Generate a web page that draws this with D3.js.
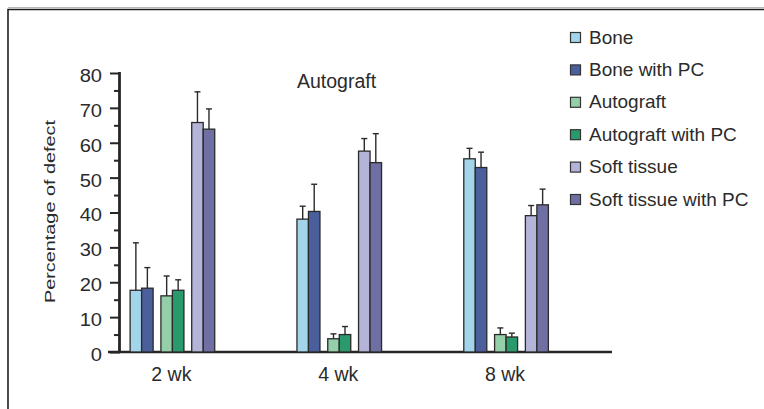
<!DOCTYPE html>
<html>
<head>
<meta charset="utf-8">
<script src="https://cdn.jsdelivr.net/npm/d3@7"></script>
<style>
  html, body { margin: 0; padding: 0; background: #fff; }
  svg { display: block; }
  text { font-family: "Liberation Sans", Arial, sans-serif; fill: #2b2b2b; }
</style>
</head>
<body>
<svg id="chart" width="764" height="409"></svg>
<script>
// Time points on the x axis
const weeks = ["2 wk", "4 wk", "8 wk"];

// Series shown in each group, in drawing order
const seriesNames = ["Bone", "Bone with PC", "Autograft", "Autograft with PC", "Soft tissue", "Soft tissue with PC"];
const seriesColors = ["#a2d5ea", "#4a5f9c", "#94cfaa", "#2a9a6d", "#b4b3d8", "#6f6fa4"];

// Mean percentage of defect per time point
const bone             = [17.7, 38.1, 55.4];
const boneWithPC       = [18.3, 40.3, 52.9];
const autograft        = [16.1, 3.8, 5.0];
const autograftWithPC  = [17.7, 5.0, 4.3];
const softTissue       = [65.8, 57.6, 39.1];
const softTissueWithPC = [63.9, 54.3, 42.2];

// Standard deviations (upper error bars)
const boneSD             = [13.6, 3.7, 3.0];
const boneWithPCSD       = [5.9, 7.8, 4.4];
const autograftSD        = [5.7, 1.4, 1.9];
const autograftWithPCSD  = [3.0, 2.3, 1.1];
const softTissueSD       = [8.8, 3.6, 2.9];
const softTissueWithPCSD = [5.8, 8.3, 4.5];

const yTicks = [0, 10, 20, 30, 40, 50, 60, 70, 80];
const yMinorTicks = [5, 15, 25, 35, 45, 55, 65, 75];

const seriesValues = [bone, boneWithPC, autograft, autograftWithPC, softTissue, softTissueWithPC];
const seriesSD = [boneSD, boneWithPCSD, autograftSD, autograftWithPCSD, softTissueSD, softTissueWithPCSD];

const rows = [];
weeks.forEach((w, wi) => {
  seriesNames.forEach((s, si) => {
    rows.push({ week: w, series: s, idx: si, value: seriesValues[si][wi], sd: seriesSD[si][wi] });
  });
});

const svg = d3.select("#chart");
const ink = "#262626";

// Outer frame
svg.append("path")
  .attr("d", "M8,409V9.5H764")
  .attr("fill", "none").attr("stroke", "#1e1e1e").attr("stroke-width", 1.6);
svg.append("line")
  .attr("x1", 8).attr("x2", 764).attr("y1", 7.6).attr("y2", 7.6)
  .attr("stroke", "#b0b0b0").attr("stroke-width", 1);

// Scales
const y = d3.scaleLinear().domain([0, 80]).range([352, 73]);
const x0 = d3.scaleBand().domain(weeks).range([89, 589.5]).padding(0);
const groupWidth = 84.6;
const pairScale = d3.scaleBand().domain([0, 1, 2]).range([0, groupWidth]).paddingInner(0.253).paddingOuter(0);
const withinScale = d3.scaleBand().domain([0, 1]).range([0, pairScale.bandwidth()]);

function barX(d) {
  const gx = x0(d.week) + x0.bandwidth() / 2 - groupWidth / 2;
  return gx + pairScale(Math.floor(d.idx / 2)) + withinScale(d.idx % 2);
}
const bw = withinScale.bandwidth();

// Y axis: labelled major ticks
const yAxis = d3.axisLeft(y).tickValues(yTicks).tickSize(10).tickPadding(8).tickSizeOuter(0);
const gy = svg.append("g").attr("transform", "translate(120,0)").call(yAxis);
gy.select(".domain").remove();
gy.selectAll(".tick line").attr("stroke", ink).attr("stroke-width", 2);
gy.selectAll(".tick text")
  .style("font-family", "'Liberation Sans', Arial, sans-serif")
  .attr("font-size", 17.5).attr("fill", "#2b2b2b").attr("dy", "0.48em")
  .each(function () {
    // numerals are set slightly wide
    const w = this.getComputedTextLength();
    d3.select(this).attr("textLength", w * 1.15).attr("lengthAdjust", "spacingAndGlyphs");
  });

// Minor ticks
const yMinor = d3.axisLeft(y).tickValues(yMinorTicks).tickSize(6).tickFormat("");
const gm = svg.append("g").attr("transform", "translate(120,0)").call(yMinor);
gm.select(".domain").remove();
gm.selectAll(".tick line").attr("stroke", ink).attr("stroke-width", 2);

// Axis lines
svg.append("line")
  .attr("x1", 119.5).attr("x2", 119.5).attr("y1", y(80) - 1).attr("y2", y(0))
  .attr("stroke", ink).attr("stroke-width", 2.8);
svg.append("line")
  .attr("x1", 108).attr("x2", 612).attr("y1", y(0)).attr("y2", y(0))
  .attr("stroke", ink).attr("stroke-width", 2.4);

// Bars
svg.append("g").selectAll("rect").data(rows).join("rect")
  .attr("x", d => barX(d))
  .attr("y", d => y(d.value))
  .attr("width", bw)
  .attr("height", d => y(0) - y(d.value))
  .attr("fill", d => seriesColors[d.idx])
  .attr("stroke", "#2a2a2a").attr("stroke-width", 1.3);

// Error bars (upper only)
const eb = svg.append("g").attr("stroke", "#2a2a2a").attr("stroke-width", 1.4);
eb.selectAll("line.v").data(rows).join("line").attr("class", "v")
  .attr("x1", d => barX(d) + bw / 2).attr("x2", d => barX(d) + bw / 2)
  .attr("y1", d => y(d.value)).attr("y2", d => y(d.value + d.sd));
eb.selectAll("line.c").data(rows).join("line").attr("class", "c")
  .attr("x1", d => barX(d) + bw / 2 - 3).attr("x2", d => barX(d) + bw / 2 + 3)
  .attr("y1", d => y(d.value + d.sd)).attr("y2", d => y(d.value + d.sd));

// X labels
svg.append("g").selectAll("text").data(weeks).join("text")
  .attr("x", d => x0(d) + x0.bandwidth() / 2 - 1)
  .attr("y", 381)
  .attr("text-anchor", "middle")
  .attr("font-size", 19.5)
  .text(d => d);

// Panel title
svg.append("text")
  .attr("x", 297).attr("y", 88)
  .attr("font-size", 19.5)
  .text("Autograft");

// Y axis title
svg.append("text")
  .attr("transform", "translate(55,303) rotate(-90)")
  .attr("x", 0).attr("y", 0)
  .attr("font-size", 14.5)
  .attr("fill", "#3a3a3a")
  .attr("textLength", 183)
  .attr("lengthAdjust", "spacingAndGlyphs")
  .text("Percentage of defect");

// Legend
const legend = svg.append("g").selectAll("g").data(seriesNames).join("g")
  .attr("transform", (d, i) => `translate(570,${43.5 + i * 32.4})`);
legend.append("rect")
  .attr("x", 0.5).attr("y", -11).attr("width", 10).attr("height", 10)
  .attr("fill", (d, i) => seriesColors[i])
  .attr("stroke", "#333").attr("stroke-width", 1.2);
legend.append("text")
  .attr("x", 19).attr("y", 0)
  .attr("font-size", 19)
  .text(d => d);
</script>
</body>
</html>
